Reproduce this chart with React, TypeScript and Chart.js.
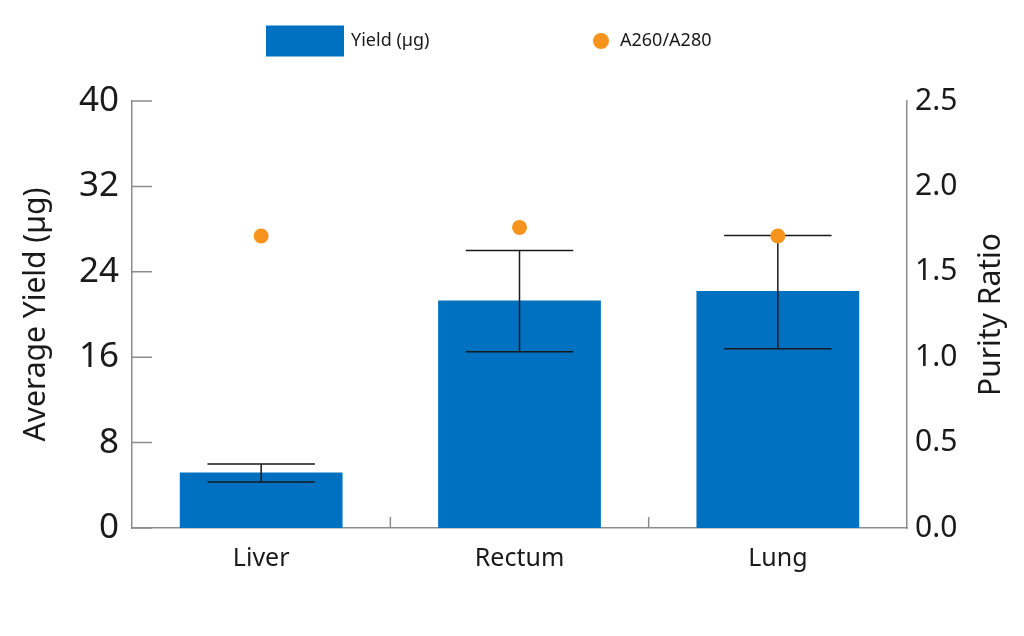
import { useEffect, useRef } from "react"
import { Chart, registerables, Plugin } from "chart.js"

Chart.register(...registerables)

const tissues = ["Liver", "Rectum", "Lung"]
const yieldMeans = [5.2, 21.3, 22.2]
const yieldUpper = [6.0, 26.0, 27.4]
const yieldLower = [4.3, 16.5, 16.8]
const purityRatios = [1.71, 1.76, 1.71]
const yieldTicks = [0, 8, 16, 24, 32, 40]
const purityTicks = [0, 0.5, 1.0, 1.5, 2.0, 2.5]

const BLUE = "#0070C0"
const ORANGE = "#F7941D"
const TEXT = "#1a1a1a"
const AXIS = "#8c8c8c"
const FONT = "'Noto Sans', 'Open Sans', sans-serif"

// error bars, inner ticks, right-hand title and the legend
const extrasPlugin: Plugin<"bar"> = {
  id: "extras",
  afterDatasetDraw(chart, args) {
    if (args.index !== 0) return
    const { ctx } = chart
    const y = chart.scales.y
    const meta = chart.getDatasetMeta(0)
    ctx.save()
    ctx.strokeStyle = TEXT
    ctx.lineWidth = 1.5
    meta.data.forEach((bar: any, i) => {
      const cx = bar.x
      const half = bar.width * 0.33
      const top = y.getPixelForValue(yieldUpper[i])
      const bot = y.getPixelForValue(yieldLower[i])
      ctx.beginPath()
      ctx.moveTo(cx, top)
      ctx.lineTo(cx, bot)
      ctx.moveTo(cx - half, top)
      ctx.lineTo(cx + half, top)
      ctx.moveTo(cx - half, bot)
      ctx.lineTo(cx + half, bot)
      ctx.stroke()
    })
    ctx.restore()
  },
  afterDraw(chart) {
    const { ctx, chartArea } = chart
    const x = chart.scales.x
    const y = chart.scales.y
    ctx.save()

    // ticks pointing into the plot on the left axis
    ctx.strokeStyle = AXIS
    ctx.lineWidth = 1.5
    ctx.beginPath()
    yieldTicks.forEach(v => {
      const py = y.getPixelForValue(v)
      ctx.moveTo(chartArea.left, py)
      ctx.lineTo(chartArea.left + 20, py)
    })
    // category separators on the x axis
    for (let i = 1; i < tissues.length; i++) {
      const px = (x.getPixelForValue(i - 1) + x.getPixelForValue(i)) / 2
      ctx.moveTo(px, chartArea.bottom)
      ctx.lineTo(px, chartArea.bottom - 11)
    }
    ctx.stroke()

    // right axis title, reading bottom to top
    ctx.fillStyle = TEXT
    ctx.font = `30px ${FONT}`
    ctx.textAlign = "center"
    ctx.textBaseline = "middle"
    ctx.translate(chartArea.right + 84, (chartArea.top + chartArea.bottom) / 2)
    ctx.rotate(-Math.PI / 2)
    ctx.fillText("Purity Ratio", 0, 0)
    ctx.setTransform(1, 0, 0, 1, 0, 0)
    ctx.scale(chart.currentDevicePixelRatio, chart.currentDevicePixelRatio)

    // legend
    const ly = 41
    const lx = chartArea.left + 134
    ctx.fillStyle = BLUE
    ctx.fillRect(lx, ly - 15.5, 78, 31)
    ctx.fillStyle = TEXT
    ctx.font = `18px ${FONT}`
    ctx.textAlign = "left"
    ctx.fillText(chart.data.datasets[0].label as string, lx + 85, ly)

    const dx = chartArea.left + 469
    ctx.fillStyle = ORANGE
    ctx.beginPath()
    ctx.arc(dx, ly, 8, 0, Math.PI * 2)
    ctx.fill()
    ctx.fillStyle = TEXT
    ctx.fillText(chart.data.datasets[1].label as string, dx + 19, ly)

    ctx.restore()
  }
}

const YieldPurityChart = () => {
  const chartRef = useRef<HTMLCanvasElement>(null)
  const chartInstance = useRef<Chart | null>(null)

  useEffect(() => {
    document.body.style.margin = "0"
    if (!chartRef.current) return
    const ctx = chartRef.current.getContext("2d")
    if (!ctx) return

    if (chartInstance.current) {
      chartInstance.current.destroy()
    }

    chartInstance.current = new Chart(ctx, {
      type: "bar",
      data: {
        labels: tissues,
        datasets: [
          {
            type: "bar",
            label: "Yield (µg)",
            data: yieldMeans,
            backgroundColor: BLUE,
            yAxisID: "y",
            categoryPercentage: 1,
            barPercentage: 0.63,
            order: 2
          },
          {
            type: "line",
            label: "A260/A280",
            data: purityRatios,
            yAxisID: "y1",
            showLine: false,
            pointRadius: 7.5,
            pointBackgroundColor: ORANGE,
            pointBorderWidth: 0,
            order: 1
          }
        ] as any
      },
      options: {
        responsive: true,
        maintainAspectRatio: false,
        animation: false,
        events: [],
        layout: { padding: { top: 101, left: 0, right: 0, bottom: 0 } },
        scales: {
          x: {
            grid: { display: false, drawTicks: false },
            border: { color: AXIS, width: 1.5 },
            ticks: { color: TEXT, font: { family: FONT, size: 25 }, padding: 16 },
            afterFit: (s: any) => { s.height = 108 }
          },
          y: {
            position: "left",
            min: 0,
            max: 40,
            grid: { display: false, drawTicks: false },
            border: { color: AXIS, width: 1.5 },
            afterBuildTicks: (s: any) => { s.ticks = yieldTicks.map(v => ({ value: v })) },
            ticks: { color: TEXT, font: { family: FONT, size: 35 }, padding: 13 },
            title: {
              display: true,
              text: "Average Yield (µg)",
              color: TEXT,
              font: { family: FONT, size: 30 },
              padding: { top: 18, bottom: 0 }
            },
            afterFit: (s: any) => { s.width = 132 }
          },
          y1: {
            position: "right",
            min: 0,
            max: 2.5,
            grid: { display: false, drawTicks: false },
            border: { color: AXIS, width: 1.5 },
            afterBuildTicks: (s: any) => { s.ticks = purityTicks.map(v => ({ value: v })) },
            ticks: {
              color: TEXT,
              font: { family: FONT, size: 30 },
              padding: 8,
              callback: (v: any) => Number(v).toFixed(1)
            },
            afterFit: (s: any) => { s.width = 117 }
          }
        },
        plugins: {
          legend: { display: false },
          tooltip: { enabled: false }
        }
      },
      plugins: [extrasPlugin]
    })

    return () => {
      if (chartInstance.current) {
        chartInstance.current.destroy()
        chartInstance.current = null
      }
    }
  }, [])

  return (
    <div style={{ position: "relative", width: 1024, height: 636, background: "#fff" }}>
      <canvas ref={chartRef}></canvas>
    </div>
  )
}

export default function App() {
  return <YieldPurityChart />
}
